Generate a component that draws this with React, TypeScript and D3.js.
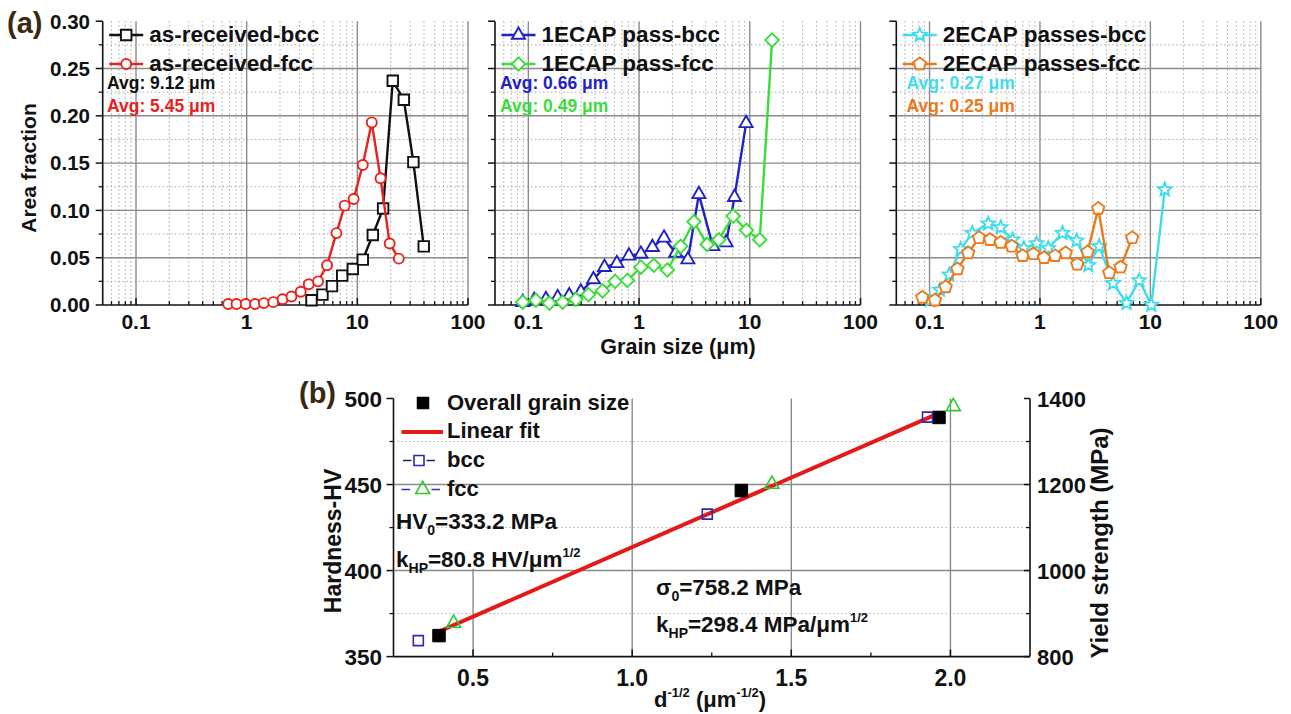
import React from "react";
import * as d3 from "d3";

const FONT = "'Liberation Sans', Arial, Helvetica, sans-serif";
const MU = "\u03bc";

// ---------- (a) data: grain size (µm) vs area fraction ----------
const arBccSize = [3.85, 4.84, 5.9, 7.3, 9.1, 11.2, 13.8, 17.1, 20.9, 26.3, 32.1, 39.8];
const arBccFrac = [0.005, 0.011, 0.02, 0.031, 0.038, 0.048, 0.074, 0.102, 0.237, 0.217, 0.151, 0.062];
const arFccSize = [0.68, 0.81, 0.98, 1.19, 1.43, 1.74, 2.11, 2.54, 3.08, 3.64, 4.42, 5.32, 6.47, 7.69, 9.26, 11.2, 13.5, 16.2, 19.6, 23.7];
const arFccFrac = [0.001, 0.001, 0.001, 0.001, 0.002, 0.003, 0.006, 0.009, 0.014, 0.022, 0.025, 0.042, 0.076, 0.105, 0.112, 0.148, 0.193, 0.134, 0.065, 0.049];

const e1BccSize = [0.089, 0.113, 0.144, 0.184, 0.234, 0.298, 0.387, 0.487, 0.63, 0.81, 1.04, 1.32, 1.68, 2.14, 2.76, 3.47, 4.64, 6.12, 7.28, 9.26];
const e1BccFrac = [0.003, 0.005, 0.006, 0.008, 0.01, 0.014, 0.027, 0.04, 0.044, 0.052, 0.054, 0.061, 0.071, 0.055, 0.048, 0.117, 0.062, 0.066, 0.114, 0.192];
const e1FccSize = [0.089, 0.117, 0.155, 0.204, 0.269, 0.349, 0.468, 0.608, 0.785, 1.04, 1.36, 1.8, 2.38, 3.13, 4.12, 5.25, 7.08, 9.33, 12.3, 15.9];
const e1FccFrac = [0.003, 0.005, 0.002, 0.003, 0.006, 0.011, 0.015, 0.025, 0.026, 0.04, 0.042, 0.037, 0.062, 0.088, 0.064, 0.069, 0.094, 0.079, 0.069, 0.28];

const e2BccSize = [0.101, 0.124, 0.151, 0.191, 0.244, 0.34, 0.441, 0.566, 0.716, 0.933, 1.19, 1.6, 2.15, 2.74, 3.44, 4.6, 6.09, 7.92, 10.2, 13.5];
const e2BccFrac = [0.005, 0.016, 0.032, 0.059, 0.076, 0.086, 0.082, 0.069, 0.06, 0.065, 0.06, 0.076, 0.068, 0.042, 0.062, 0.023, 0.002, 0.026, 0.0, 0.122];
const e2FccSize = [0.086, 0.112, 0.14, 0.179, 0.224, 0.281, 0.353, 0.441, 0.555, 0.697, 0.871, 1.09, 1.37, 1.71, 2.18, 2.7, 3.37, 4.24, 5.37, 6.84];
const e2FccFrac = [0.008, 0.005, 0.019, 0.038, 0.055, 0.071, 0.069, 0.066, 0.062, 0.052, 0.054, 0.05, 0.052, 0.055, 0.043, 0.056, 0.102, 0.034, 0.04, 0.071];

const xTickLabelsA = ["0.1", "1", "10", "100"];
const xTickValuesA = [0.1, 1, 10, 100];
const yTickValuesA = [0, 0.05, 0.1, 0.15, 0.2, 0.25, 0.3];
const yTickLabelsA = ["0.00", "0.05", "0.10", "0.15", "0.20", "0.25", "0.30"];

// ---------- (b) data: Hall-Petch ----------
const overallD = [0.393, 1.343, 1.964];
const overallHV = [362.2, 446.5, 489.0];
const bccD = [0.328, 1.236, 1.928];
const bccHV = [359.3, 432.8, 489.2];
const fccD = [0.439, 1.439, 2.009];
const fccHV = [369.4, 450.2, 495.3];
const fitD = [0.393, 1.964];
const fitHV = [364.6, 491.5];

const xTickValuesB = [0.5, 1.0, 1.5, 2.0];
const xTickLabelsB = ["0.5", "1.0", "1.5", "2.0"];
const yTickValuesB = [350, 400, 450, 500];
const yRightTickValuesB = [800, 1000, 1200, 1400];

// ---------- markers ----------
function markerPath(type: string, s: number): string {
  if (type === "square") return `M${-s / 2},${-s / 2}h${s}v${s}h${-s}Z`;
  if (type === "circle") {
    const r = s / 2;
    return `M${r},0A${r},${r} 0 1,1 ${-r},0A${r},${r} 0 1,1 ${r},0Z`;
  }
  if (type === "triangle") {
    const h = s * 0.87;
    return `M0,${(-h * 2) / 3}L${s / 2},${h / 3}L${-s / 2},${h / 3}Z`;
  }
  if (type === "diamond") return `M0,${-s / 2}L${s / 2},0L0,${s / 2}L${-s / 2},0Z`;
  if (type === "pentagon") {
    const r = s / 2;
    const pts = d3.range(5).map((k) => {
      const a = ((-90 + 72 * k) * Math.PI) / 180;
      return [r * Math.cos(a), r * Math.sin(a)];
    });
    return "M" + pts.map((p) => p.join(",")).join("L") + "Z";
  }
  if (type === "star") {
    const R = s / 2;
    const r = R * 0.45;
    const pts = d3.range(10).map((k) => {
      const a = ((-90 + 36 * k) * Math.PI) / 180;
      const rr = k % 2 === 0 ? R : r;
      return [rr * Math.cos(a), rr * Math.sin(a)];
    });
    return "M" + pts.map((p) => p.join(",")).join("L") + "Z";
  }
  return "";
}

type Series = { sizes: number[]; fracs: number[]; color: string; marker: string; ms: number; name: string };

const C_BLACK = "#111";
const C_RED = "#e8221e";
const C_BLUE = "#2222c4";
const C_GREEN = "#3cdc3c";
const C_CYAN = "#3fdcec";
const C_ORANGE = "#ea7a1c";

const panelsA = [
  {
    x0: 102.7,
    x1: 468,
    avgX: 107,
    series: [
      { sizes: arBccSize, fracs: arBccFrac, color: C_BLACK, marker: "square", ms: 10.5, name: "as-received-bcc" },
      { sizes: arFccSize, fracs: arFccFrac, color: C_RED, marker: "circle", ms: 10, name: "as-received-fcc" },
    ] as Series[],
    avg: [
      { t: `Avg: 9.12 ${MU}m`, c: "#111" },
      { t: `Avg: 5.45 ${MU}m`, c: C_RED },
    ],
  },
  {
    x0: 495,
    x1: 860.5,
    avgX: 500,
    series: [
      { sizes: e1BccSize, fracs: e1BccFrac, color: C_BLUE, marker: "triangle", ms: 13, name: "1ECAP pass-bcc" },
      { sizes: e1FccSize, fracs: e1FccFrac, color: C_GREEN, marker: "diamond", ms: 13.5, name: "1ECAP pass-fcc" },
    ] as Series[],
    avg: [
      { t: `Avg: 0.66 ${MU}m`, c: C_BLUE },
      { t: `Avg: 0.49 ${MU}m`, c: C_GREEN },
    ],
  },
  {
    x0: 896.3,
    x1: 1260.8,
    avgX: 906.5,
    series: [
      { sizes: e2BccSize, fracs: e2BccFrac, color: C_CYAN, marker: "star", ms: 14, name: "2ECAP passes-bcc" },
      { sizes: e2FccSize, fracs: e2FccFrac, color: C_ORANGE, marker: "pentagon", ms: 13, name: "2ECAP passes-fcc" },
    ] as Series[],
    avg: [
      { t: `Avg: 0.27 ${MU}m`, c: C_CYAN },
      { t: `Avg: 0.25 ${MU}m`, c: C_ORANGE },
    ],
  },
];

const GRID = "#8a8a8a";
const DOT = "#a8a8a8";

function PanelA({ p, idx }: { p: (typeof panelsA)[number]; idx: number }) {
  const x = d3.scaleLog().domain([0.05, 100]).range([p.x0, p.x1]);
  const y = d3.scaleLinear().domain([0, 0.3]).range([305, 21.2]);
  const minorX: number[] = [];
  [0.01, 0.1, 1, 10].forEach((dec) => {
    for (let m = 2; m <= 9; m++) {
      const v = m * dec;
      if (v > 0.05 && v < 100) minorX.push(v);
    }
  });
  const minorY = d3.range(0.025, 0.3, 0.05);
  const majorY = [0.05, 0.1, 0.15, 0.2, 0.25];
  const line = d3
    .line<[number, number]>()
    .x((d) => x(d[0]))
    .y((d) => y(d[1]));
  const legCx = p.x0 + 23.5;
  return (
    <g>
      {minorX.map((v) => (
        <line key={"mx" + v} x1={x(v)} x2={x(v)} y1={y(0.3)} y2={y(0)} stroke={DOT} strokeWidth={1} strokeDasharray="1.5,2.5" />
      ))}
      {minorY.map((v) => (
        <line key={"my" + v} x1={p.x0} x2={p.x1} y1={y(v)} y2={y(v)} stroke={DOT} strokeWidth={1} strokeDasharray="1.5,2.5" />
      ))}
      {xTickValuesA.map((v) => (
        <line key={"Mx" + v} x1={x(v)} x2={x(v)} y1={y(0.3)} y2={y(0)} stroke={GRID} strokeWidth={1.4} />
      ))}
      {majorY.map((v) => (
        <line key={"My" + v} x1={p.x0} x2={p.x1} y1={y(v)} y2={y(v)} stroke={GRID} strokeWidth={1.4} />
      ))}
      <line x1={p.x0} x2={p.x0} y1={y(0.3)} y2={y(0)} stroke="#111" strokeWidth={1.6} />
      <line x1={p.x0} x2={p.x1} y1={y(0)} y2={y(0)} stroke="#111" strokeWidth={1.6} />
      {yTickValuesA.map((v) => (
        <line key={"yt" + v} x1={p.x0 - 7} x2={p.x0} y1={y(v)} y2={y(v)} stroke="#111" strokeWidth={1.5} />
      ))}
      {minorY.map((v) => (
        <line key={"ymt" + v} x1={p.x0 - 4} x2={p.x0} y1={y(v)} y2={y(v)} stroke="#111" strokeWidth={1.3} />
      ))}
      {xTickValuesA.map((v) => (
        <line key={"xt" + v} x1={x(v)} x2={x(v)} y1={y(0)} y2={y(0) - 7} stroke="#111" strokeWidth={1.5} />
      ))}
      {minorX.map((v) => (
        <line key={"xmt" + v} x1={x(v)} x2={x(v)} y1={y(0)} y2={y(0) - 4} stroke="#111" strokeWidth={1.3} />
      ))}
      {xTickValuesA.map((v, i) => (
        <text key={"xl" + v} x={x(v)} y={329} textAnchor="middle" fontSize={21} fontWeight="bold" fontFamily={FONT} fill="#111">
          {xTickLabelsA[i]}
        </text>
      ))}
      {idx === 0 &&
        yTickValuesA.map((v, i) => (
          <text key={"yl" + v} x={90} y={y(v) + 7.3} textAnchor="end" fontSize={20.5} fontWeight="bold" fontFamily={FONT} fill="#111">
            {yTickLabelsA[i]}
          </text>
        ))}
      {p.series.map((s) => {
        const pts = s.sizes.map((v, i) => [v, s.fracs[i]] as [number, number]);
        return (
          <g key={s.name}>
            <path d={line(pts) || ""} fill="none" stroke={s.color} strokeWidth={2.4} strokeLinejoin="round" />
            {pts.map((d, i) => (
              <path
                key={i}
                d={markerPath(s.marker, s.ms)}
                transform={`translate(${x(d[0])},${y(d[1])})`}
                fill="#fff"
                stroke={s.color}
                strokeWidth={1.9}
              />
            ))}
          </g>
        );
      })}
      {p.series.map((s, i) => {
        const cy = i === 0 ? 35 : 64;
        return (
          <g key={"lg" + i}>
            <line x1={legCx - 17} x2={legCx + 17} y1={cy} y2={cy} stroke={s.color} strokeWidth={2.4} />
            <path d={markerPath(s.marker, s.ms)} transform={`translate(${legCx},${cy})`} fill="#fff" stroke={s.color} strokeWidth={1.9} />
            <text x={legCx + 23} y={cy + 6.6} fontSize={22.5} fontWeight="bold" fontFamily={FONT} fill="#111">
              {s.name}
            </text>
          </g>
        );
      })}
      {p.avg.map((a, i) => (
        <text key={"av" + i} x={p.avgX} y={i === 0 ? 89 : 112} fontSize={17.5} fontWeight="bold" fontFamily={FONT} fill={a.c}>
          {a.t}
        </text>
      ))}
    </g>
  );
}

function PanelB() {
  const x = d3.scaleLinear().domain([0.25, 2.25]).range([393.5, 1030]);
  const y = d3.scaleLinear().domain([350, 500]).range([656.6, 398.5]);
  const yR = d3.scaleLinear().domain([800, 1400]).range([656.6, 398.5]);
  const X0 = x(0.25);
  const X1 = x(2.25);
  const Y0 = y(350);
  const Y1 = y(500);
  const minorYB = [375, 425, 475];
  const minorYR = [900, 1100, 1300];
  const minorXB = [0.75, 1.25, 1.75];
  const fitPts = fitD.map((d, i) => [d, fitHV[i]] as [number, number]);
  const fitLine = d3
    .line<[number, number]>()
    .x((d) => x(d[0]))
    .y((d) => y(d[1]));
  const T = { fontFamily: FONT, fontWeight: "bold" as const, fill: "#111" };
  return (
    <g>
      {minorYB.map((v) => (
        <line key={"dg" + v} x1={X0} x2={X1} y1={y(v)} y2={y(v)} stroke="#b4b4b4" strokeWidth={1} strokeDasharray="1.5,2.5" />
      ))}
      {[400, 450].map((v) => (
        <line key={"hg" + v} x1={X0} x2={X1} y1={y(v)} y2={y(v)} stroke={GRID} strokeWidth={1.4} />
      ))}
      {xTickValuesB.map((v) => (
        <line key={"vg" + v} x1={x(v)} x2={x(v)} y1={v === 0.5 ? y(401) : Y1} y2={Y0} stroke={GRID} strokeWidth={1.4} />
      ))}
      <line x1={X0} x2={X0} y1={Y1} y2={Y0} stroke="#111" strokeWidth={1.6} />
      <line x1={X1} x2={X1} y1={Y1} y2={Y0} stroke="#111" strokeWidth={1.6} />
      <line x1={X0} x2={X1} y1={Y0} y2={Y0} stroke="#111" strokeWidth={1.6} />
      {yTickValuesB.map((v) => (
        <line key={"lt" + v} x1={X0 - 7} x2={X0} y1={y(v)} y2={y(v)} stroke="#111" strokeWidth={1.5} />
      ))}
      {minorYB.map((v) => (
        <line key={"lmt" + v} x1={X0 - 4} x2={X0} y1={y(v)} y2={y(v)} stroke="#111" strokeWidth={1.3} />
      ))}
      {yRightTickValuesB.map((v) => (
        <line key={"rt" + v} x1={X1 - 6} x2={X1} y1={yR(v)} y2={yR(v)} stroke="#111" strokeWidth={1.5} />
      ))}
      {minorYR.map((v) => (
        <line key={"rmt" + v} x1={X1 - 4} x2={X1} y1={yR(v)} y2={yR(v)} stroke="#111" strokeWidth={1.3} />
      ))}
      {xTickValuesB.map((v) => (
        <line key={"bt" + v} x1={x(v)} x2={x(v)} y1={Y0} y2={Y0 - 7} stroke="#111" strokeWidth={1.5} />
      ))}
      {minorXB.map((v) => (
        <line key={"bmt" + v} x1={x(v)} x2={x(v)} y1={Y0} y2={Y0 - 4} stroke="#111" strokeWidth={1.3} />
      ))}
      {yTickValuesB.map((v) => (
        <text key={"ll" + v} x={382} y={y(v) + 8} textAnchor="end" fontSize={22.5} {...T}>
          {v}
        </text>
      ))}
      {yRightTickValuesB.map((v) => (
        <text key={"rl" + v} x={1037} y={yR(v) + 8} textAnchor="start" fontSize={22} {...T}>
          {v}
        </text>
      ))}
      {xTickValuesB.map((v, i) => (
        <text key={"bl" + v} x={x(v)} y={685.5} textAnchor="middle" fontSize={23} {...T}>
          {xTickLabelsB[i]}
        </text>
      ))}
      <text transform="translate(341,541) rotate(-90)" textAnchor="middle" fontSize={23} {...T}>
        Hardness-HV
      </text>
      <text transform="translate(1108,543) rotate(-90)" textAnchor="middle" fontSize={24} {...T}>
        Yield strength (MPa)
      </text>
      <text x={654} y={707} fontSize={22} {...T}>
        d
        <tspan fontSize={13} dy={-10}>-1/2</tspan>
        <tspan dy={10}>{` (${MU}m`}</tspan>
        <tspan fontSize={13} dy={-10}>-1/2</tspan>
        <tspan dy={10}>)</tspan>
      </text>
      <path d={fitLine(fitPts) || ""} stroke="#e41a1a" strokeWidth={4} fill="none" />
      {overallD.map((d, i) => (
        <path key={"o" + i} d={markerPath("square", 12.5)} transform={`translate(${x(d)},${y(overallHV[i])})`} fill="#000" stroke="#000" strokeWidth={1} />
      ))}
      {bccD.map((d, i) => (
        <path key={"b" + i} d={markerPath("square", 10)} transform={`translate(${x(d)},${y(bccHV[i])})`} fill="none" stroke="#2a2ab4" strokeWidth={1.6} />
      ))}
      {fccD.map((d, i) => (
        <path key={"f" + i} d={markerPath("triangle", 14)} transform={`translate(${x(d)},${y(fccHV[i])})`} fill="none" stroke="#2ccc2c" strokeWidth={1.6} />
      ))}
      <path d={markerPath("square", 12.5)} transform="translate(423,403)" fill="#000" />
      <text x={447} y={409.5} fontSize={22} {...T}>
        Overall grain size
      </text>
      <line x1={401.5} x2={443} y1={432} y2={432} stroke="#e41a1a" strokeWidth={4} />
      <text x={447} y={438} fontSize={22} {...T}>
        Linear fit
      </text>
      <line x1={403} x2={411.5} y1={460.5} y2={460.5} stroke="#22226a" strokeWidth={1.5} />
      <line x1={426.5} x2={435} y1={460.5} y2={460.5} stroke="#22226a" strokeWidth={1.5} />
      <path d={markerPath("square", 10)} transform="translate(419,460.5)" fill="none" stroke="#2a2ab4" strokeWidth={1.6} />
      <text x={447} y={467} fontSize={22} {...T}>
        bcc
      </text>
      <line x1={401.5} x2={410} y1={489.5} y2={489.5} stroke="#3030c8" strokeWidth={1.5} />
      <line x1={431.5} x2={440} y1={489.5} y2={489.5} stroke="#3030c8" strokeWidth={1.5} />
      <path d={markerPath("triangle", 14)} transform="translate(422.7,489.5)" fill="none" stroke="#2ccc2c" strokeWidth={1.6} />
      <text x={447} y={496} fontSize={22} {...T}>
        fcc
      </text>
      <text x={396} y={528.5} fontSize={22.5} {...T}>
        HV<tspan fontSize={14} dy={6}>0</tspan>
        <tspan dy={-6}>=333.2 MPa</tspan>
      </text>
      <text x={396} y={567} fontSize={22.5} {...T}>
        k<tspan fontSize={14} dy={6}>HP</tspan>
        <tspan dy={-6}>{`=80.8 HV/${MU}m`}</tspan>
        <tspan fontSize={13} dy={-10}>1/2</tspan>
      </text>
      <text x={656} y={595} fontSize={22.5} {...T}>
        {"\u03c3"}
        <tspan fontSize={14} dy={6}>0</tspan>
        <tspan dy={-6}>=758.2 MPa</tspan>
      </text>
      <text x={656} y={632} fontSize={22.5} {...T}>
        k<tspan fontSize={14} dy={6}>HP</tspan>
        <tspan dy={-6}>{`=298.4 MPa/${MU}m`}</tspan>
        <tspan fontSize={13} dy={-10}>1/2</tspan>
      </text>
    </g>
  );
}

export default function App() {
  return (
    <svg
      width={1291}
      height={714}
      viewBox="0 0 1291 714"
      style={{ position: "absolute", left: 0, top: 0, background: "#fff" }}
    >
      <rect x={0} y={0} width={1291} height={714} fill="#fff" />
      {panelsA.map((p, i) => (
        <PanelA key={i} p={p} idx={i} />
      ))}
      <text transform="translate(36,168) rotate(-90)" textAnchor="middle" fontSize={21} fontWeight="bold" fontFamily={FONT} fill="#111">
        Area fraction
      </text>
      <text x={678} y={353.5} textAnchor="middle" fontSize={21.5} fontWeight="bold" fontFamily={FONT} fill="#111">
        {`Grain size (${MU}m)`}
      </text>
      <text x={7} y={33} fontSize={29} fontWeight="bold" fontFamily={FONT} fill="#3a2812">
        (a)
      </text>
      <text x={299} y={403} fontSize={29} fontWeight="bold" fontFamily={FONT} fill="#3a2812">
        (b)
      </text>
      <PanelB />
    </svg>
  );
}
